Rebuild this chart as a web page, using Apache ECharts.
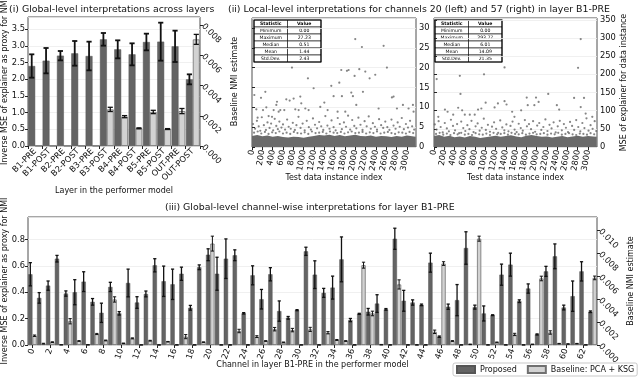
<!doctype html>
<html>
<head>
<meta charset="utf-8">
<title>interpretations</title>
<script src="https://cdn.jsdelivr.net/npm/echarts@6/dist/echarts.min.js"></script>
<style>
  html, body { margin: 0; padding: 0; background: #fff; }
  #chart { width: 640px; height: 379px; }
</style>
</head>
<body>
<div id="chart"></div>
<script>
// (i) layers
var layers = ['B1-PRE','B1-POST','B2-PRE','B2-POST','B3-PRE','B3-POST','B4-PRE','B4-POST','B5-PRE','B5-POST','OUT-PRE','OUT-POST'];
var layerProposed = [2.40,2.56,2.71,2.78,2.70,3.20,2.90,2.75,3.12,3.13,2.99,2.00];
var layerProposedErr = [0.35,0.38,0.14,0.37,0.43,0.19,0.27,0.33,0.25,0.57,0.47,0.15];
var layerBaseline = [0,0,0,0,0,0.00242,0.00194,0.00117,0.00225,0.00112,0.00231,0.00705];
var layerBaselineErr = [0,0,0,0,0,0.00014,0.00007,0.00003,0.00011,0.00003,0.00017,0.00033];

// (ii) local level, channel 20 (left) and 57 (right)
var statNames = ['Minimum','Maximum','Median','Mean','Std.Dev.'];
var statsLeft = ['0.00','27.23','0.51','1.44','2.43'];
var statsRight = ['0.00','293.77','6.01','14.09','21.35'];
var bandIdx = [0,100,200,300,400,500,600,700,800,900,1000,1100,1200,1300,1400,1500,1600,1700,1800,1900,2000,2100,2200,2300,2400,2500,2600,2700,2800,2900,3000,3100,3170];
var bandLeft = [2.8,3.0,2.7,2.9,2.6,2.8,2.5,2.4,2.6,2.5,2.3,2.6,2.8,3.0,2.9,3.1,2.8,3.0,2.7,2.9,3.1,2.8,2.7,2.9,2.6,2.8,2.7,2.5,2.8,2.6,2.9,2.7,2.6];
var bandRight = [30,33,28,31,27,29,26,30,28,25,27,29,31,28,30,32,29,27,31,33,30,28,29,26,28,30,27,29,31,28,30,29,28];
var pointsLeft = [
  [45,13.1],[84,9.5],[109,7.4],[174,12.4],[258,13.9],[213,9.3],[277,10.0],[322,7.8],[387,7.6],[419,9.3],
  [471,10.6],[484,11.4],[516,8.9],[548,9.3],[625,9.3],[664,12.0],[729,11.7],[774,20.0],[806,12.2],[838,9.5],
  [903,9.3],[935,12.7],[954,11.0],[1032,9.7],[1083,17.3],[1096,9.3],[1193,14.8],[1322,10.1],[1400,11.2],[1464,9.3],
  [1535,15.4],[1580,12.8],[1657,8.9],[1690,16.2],[1728,19.4],[1741,12.8],[1838,19.2],[1870,19.4],[1806,8.9],[1922,13.7],
  [1954,12.8],[1986,17.9],[1999,27.2],[2019,10.6],[2077,19.6],[2128,25.2],[2148,13.9],[2193,19.0],[2277,17.3],[2386,18.2],
  [2451,9.7],[2548,25.5],[2612,20.0],[2709,12.5],[2741,12.7],[2806,9.7],[2922,10.6],[3031,9.7],[3115,10.6],[3128,8.9],
  [20,5.8],[60,4.6],[95,6.6],[130,5.2],[160,4.1],[190,7.5],[230,5.5],[270,4.3],[300,6.2],[340,4.8],
  [370,5.9],[410,4.2],[440,7.1],[470,5.3],[500,4.5],[530,6.4],[570,4.9],[600,5.7],[640,4.4],[680,6.9],
  [710,5.1],[750,4.6],[790,6.1],[830,4.3],[860,5.5],[900,7.6],[940,4.8],[980,5.9],[1020,4.2],[1060,6.6],
  [1100,5.0],[1140,4.4],[1180,7.2],[1220,5.6],[1260,4.7],[1300,6.3],[1340,5.2],[1380,4.3],[1420,7.8],[1460,5.4],
  [1500,4.6],[1540,6.7],[1580,5.0],[1620,4.2],[1660,7.3],[1700,5.8],[1740,4.5],[1780,6.2],[1820,5.1],[1860,7.9],
  [1900,4.4],[1940,6.8],[1980,5.3],[2020,4.7],[2060,7.4],[2100,5.6],[2140,4.3],[2180,6.5],[2220,5.2],[2260,7.7],
  [2300,4.6],[2340,6.0],[2380,5.1],[2420,4.4],[2460,7.0],[2500,5.5],[2540,4.8],[2580,6.4],[2620,5.0],[2660,4.3],
  [2700,6.9],[2740,5.4],[2780,4.6],[2820,6.2],[2860,5.1],[2900,7.3],[2940,4.5],[2980,5.8],[3020,4.9],[3060,6.6],
  [3100,5.2],[3140,4.4],
  [40,3.6],[110,3.9],[180,3.4],[250,3.8],[320,3.3],[390,3.7],[460,3.5],[530,3.9],[600,3.4],[670,3.6],
  [740,3.3],[810,3.8],[880,3.5],[950,3.4],[1020,3.7],[1090,3.3],[1160,3.9],[1230,3.5],[1300,3.6],[1370,3.8],
  [1440,3.4],[1510,3.9],[1580,3.6],[1650,3.5],[1720,3.8],[1790,3.4],[1860,3.7],[1930,3.9],[2000,3.5],[2070,3.6],
  [2140,3.8],[2210,3.4],[2280,3.7],[2350,3.5],[2420,3.9],[2490,3.4],[2560,3.6],[2630,3.8],[2700,3.5],[2770,3.3],
  [2840,3.7],[2910,3.6],[2980,3.4],[3050,3.8],[3120,3.5]
];
var pointsRight = [
  [52,187],[503,196],[516,146],[974,200],[1374,219],[2806,218],[2858,297],[1806,136],[1987,136],[2038,124],
  [2225,146],[1374,126],[1413,117],[1006,122],[1180,109],[1245,120],[471,108],[922,106],[858,103],[213,103],
  [265,97],[84,83],[1826,115],[1955,115],[2393,115],[2438,103],[2729,135],[2922,135],[2858,110],[2954,92],
  [3083,83],[1697,101],[1522,97],[1567,83],[600,89],[697,89],[793,89],[374,89],[548,101],
  [15,62],[50,48],[90,71],[130,55],[170,40],[210,66],[250,51],[290,43],[330,75],[370,58],
  [410,46],[450,63],[490,38],[530,70],[570,52],[610,44],[650,60],[690,49],[730,72],[770,41],
  [810,57],[850,65],[890,45],[930,53],[970,78],[1010,47],[1050,61],[1090,42],[1130,56],[1170,68],
  [1210,50],[1250,39],[1290,73],[1330,54],[1370,46],[1410,62],[1450,43],[1490,58],[1530,70],[1570,48],
  [1610,41],[1650,64],[1690,52],[1730,45],[1770,74],[1810,57],[1850,63],[1890,49],[1930,71],[1970,42],
  [2010,59],[2050,66],[2090,47],[2130,55],[2170,76],[2210,44],[2250,61],[2290,51],[2330,68],[2370,40],
  [2410,57],[2450,72],[2490,46],[2530,63],[2570,53],[2610,41],[2650,69],[2690,58],[2730,47],[2770,74],
  [2810,55],[2850,43],[2890,66],[2930,52],[2970,79],[3010,45],[3050,60],[3090,50],[3130,71],[3160,44],
  [40,36],[110,39],[180,34],[250,37],[320,33],[390,38],[460,35],[530,39],[600,34],[670,36],
  [740,33],[810,38],[880,35],[950,34],[1020,37],[1090,33],[1160,39],[1230,35],[1300,36],[1370,38],
  [1440,34],[1510,39],[1580,36],[1650,35],[1720,38],[1790,34],[1860,37],[1930,39],[2000,35],[2070,36],
  [2140,38],[2210,34],[2280,37],[2350,35],[2420,39],[2490,34],[2560,36],[2630,38],[2700,35],[2770,33],
  [2840,37],[2910,36],[2980,34],[3050,38],[3120,35]
];

// (iii) channel-wise, layer B1-PRE
var channels = ['0','1','2','3','4','5','6','7','8','9','10','11','12','13','14','15','16','17','18','19','20','21','22','23','24','25','26','27','28','29','30','31',
  '32','33','34','35','36','37','38','39','40','41','42','43','44','45','46','47','48','49','50','51','52','53','54','55','56','57','58','59','60','61','62','63'];
var chProposed = [0.536,0.357,0.45,0.654,0.39,0.40,0.48,0.327,0.244,0.44,0.24,0.47,0.322,0.387,0.604,0.483,
  0.46,0.54,0.282,0.589,0.684,0.54,0.654,0.68,0.24,0.528,0.347,0.536,0.257,0.206,0.264,0.71,
  0.533,0.395,0.435,0.649,0.189,0.236,0.252,0.314,0.27,0.805,0.335,0.322,0.304,0.624,0.063,0.29,
  0.34,0.735,0.287,0.239,0.226,0.533,0.609,0.332,0.428,0.08,0.558,0.672,0.284,0.37,0.558,0.252];
var chProposedErr = [0.088,0.04,0.035,0.025,0.02,0.095,0.075,0.025,0.073,0.035,0.013,0.105,0.044,0.022,0.05,0.115,
  0.115,0.05,0.018,0.018,0.045,0.125,0.15,0.041,0.005,0.072,0.074,0.05,0.077,0.01,0.004,0.031,
  0.105,0.034,0.087,0.17,0.012,0.004,0.025,0.067,0.006,0.08,0.079,0.02,0.006,0.072,0.005,0.02,
  0.118,0.123,0.015,0.057,0.003,0.08,0.087,0.01,0.035,0.004,0.038,0.094,0.018,0.115,0.073,0.006];
var chBaseline = [0.00081,0.00012,0.00025,0.00002,0.00207,0.00035,0.00002,0.00096,0.0004,0.00397,0.00015,0.00058,0.00001,0.00038,0.00001,0.00029,
  0.00001,0.00073,0.00001,0.00025,0.00884,0.00001,0.00001,0.00122,0.00001,0.00073,0.00035,0.00138,0.00023,0.0013,0.00001,0.00136,
  0.00001,0.00107,0.00044,0.00035,0.00001,0.00696,0.00275,0.00003,0.00001,0.00528,0.00001,0.00001,0.00001,0.00115,0.0071,0.00035,
  0.00001,0.00006,0.00927,0.00001,0.00023,0.00001,0.00092,0.00001,0.00006,0.0058,0.00109,0.00012,0.00009,0.00012,0.00001,0.00585];
var chBaselineErr = [0.00006,0.00003,0.00003,0,0.00023,0.00003,0,0.00005,0.00003,0.00023,0.00002,0.00004,0,0.00003,0,0.00002,
  0,0.00018,0,0.00002,0.00065,0,0,0.00015,0,0.00008,0.00003,0.00015,0.00003,0.00015,0,0.00018,
  0,0.0001,0.00004,0.00003,0,0.00026,0.0002,0.00002,0,0.0004,0,0,0,0.00015,0.00016,0.00003,
  0,0.00002,0.00022,0,0.00003,0,0.0001,0,0.00002,0.0002,0.00015,0.00002,0.00002,0.00002,0,0.00016];

var FONT = 'DejaVu Sans';
var DARK = '#646464', LIGHT = '#d2d2d2';

function errData(vals, errs) {
  var out = [];
  for (var i = 0; i < vals.length; i++) {
    if (vals[i] === 0 && errs[i] === 0) continue;
    out.push([i, vals[i] - errs[i], vals[i] + errs[i]]);
  }
  return out;
}
function errSeries(xi, yi, vals, errs, side, lw) {
  return {
    type: 'custom', xAxisIndex: xi, yAxisIndex: yi, z: 5, silent: true,
    encode: { x: 0, y: [1, 2] },
    data: errData(vals, errs),
    renderItem: function (params, api) {
      var i = api.value(0);
      var lo = api.coord([i, api.value(1)]);
      var hi = api.coord([i, api.value(2)]);
      var bw = api.size([1, 0])[0];
      var x = lo[0] + side * bw * 0.24;
      var c = bw * 0.18;
      var st = { stroke: '#111', lineWidth: lw };
      return { type: 'group', children: [
        { type: 'line', shape: { x1: x, y1: lo[1], x2: x, y2: hi[1] }, style: st },
        { type: 'line', shape: { x1: x - c, y1: lo[1], x2: x + c, y2: lo[1] }, style: st },
        { type: 'line', shape: { x1: x - c, y1: hi[1], x2: x + c, y2: hi[1] }, style: st }
      ]};
    }
  };
}
function table(x0, y0, vals) {
  var cw = 33.5, rh = 7, kids = [];
  var rows = [['Statistic', 'Value']];
  for (var r = 0; r < statNames.length; r++) rows.push([statNames[r], vals[r]]);
  for (var r = 0; r < rows.length; r++) {
    for (var c = 0; c < 2; c++) {
      kids.push({ type: 'rect', shape: { x: x0 + c * cw, y: y0 + r * rh, width: cw, height: rh },
        style: { fill: '#fff', stroke: '#000', lineWidth: 0.6 } });
      kids.push({ type: 'text', x: x0 + c * cw + cw / 2, y: y0 + r * rh + rh / 2,
        style: { text: rows[r][c], align: 'center', verticalAlign: 'middle',
          font: (r === 0 ? 'bold ' : '') + '4.6px "' + FONT + '"', fill: '#000' } });
    }
  }
  kids.push({ type: 'rect', shape: { x: x0, y: y0, width: cw * 2, height: rh * rows.length },
    style: { fill: 'none', stroke: '#000', lineWidth: 1.1 } });
  return { type: 'group', children: kids, z: 100 };
}

var tickFont = { fontFamily: FONT, fontSize: 8.3, color: '#111' };
var nameFont = { fontFamily: FONT, fontSize: 8, color: '#111' };
var split = { show: true, lineStyle: { color: '#ececec', width: 0.8 } };
var tick = { show: true, length: 3, lineStyle: { color: '#222' } };
function fix(n) { return function (v) { return v.toFixed(n); }; }
function plain(v) { return String(v); }
function box(l, t, w, h) {
  return { left: l, top: t, width: w, height: h, outerBoundsMode: 'none', containLabel: false,
    show: true, borderColor: '#222', borderWidth: 0.8, backgroundColor: 'transparent' };
}
// shared axis bits
function yAx(grid, pos, max, step, fmt, rot, name, gap) {
  var a = { type: 'value', gridIndex: grid, position: pos, offset: 0, min: 0, max: max, interval: step,
    axisLine: { show: false }, axisTick: tick, nameMoveOverlap: false,
    splitLine: pos === 'left' || grid === 1 || grid === 2 ? split : { show: false },
    axisLabel: Object.assign({ formatter: fmt, rotate: rot, margin: 3, showMaxLabel: false, hideOverlap: false }, tickFont) };
  if (name) {
    a.name = name; a.nameLocation = 'middle'; a.nameGap = gap; a.nameTextStyle = nameFont;
    if (pos === 'right') a.nameRotate = 90;
  }
  return a;
}

var myChart = echarts.init(document.getElementById('chart'));
var option = {
  animation: false,
  backgroundColor: '#fff',
  textStyle: { fontFamily: FONT },
  title: [
    { text: '(i) Global-level interpretations across layers', left: 9, top: 5 },
    { text: '(ii) Local-level interpretations for channels 20 (left) and 57 (right) in layer B1-PRE', left: 228, top: 5 },
    { text: '(iii) Global-level channel-wise interpretations for layer B1-PRE', left: 165, top: 203 }
  ].map(function (t) {
    t.padding = 0;
    t.textStyle = { fontFamily: FONT, fontSize: 9.4, fontWeight: 'normal', color: '#111' };
    return t;
  }),
  legend: {
    left: 453, top: 363, padding: [2, 3], itemWidth: 18, itemHeight: 7, itemGap: 10,
    borderColor: '#bbb', borderWidth: 0.8, borderRadius: 2,
    textStyle: { fontFamily: FONT, fontSize: 8, color: '#111' },
    data: [{ name: 'Proposed', icon: 'rect' }, { name: 'Baseline: PCA + KSG', icon: 'rect' }]
  },
  grid: [
    box(28, 17, 172, 129),
    box(252, 18, 164, 129),
    box(434, 18, 163, 129),
    box(28, 217, 569, 128)
  ],
  xAxis: [
    { type: 'category', gridIndex: 0, data: layers, axisLine: { show: false }, axisTick: tick, nameMoveOverlap: false,
      axisLabel: Object.assign({ rotate: 45, interval: 0, margin: 4 }, tickFont),
      name: 'Layer in the performer model', nameLocation: 'middle', nameGap: 41, nameTextStyle: nameFont },
    { type: 'value', gridIndex: 1, min: 0, max: 3175, interval: 200, axisLine: { show: false }, axisTick: tick,
      splitLine: { show: false }, nameMoveOverlap: false,
      axisLabel: Object.assign({ rotate: 80, margin: 3, showMaxLabel: false, formatter: plain }, tickFont),
      name: 'Test data instance index', nameLocation: 'middle', nameGap: 27, nameTextStyle: nameFont },
    { type: 'value', gridIndex: 2, min: 0, max: 3175, interval: 200, axisLine: { show: false }, axisTick: tick,
      splitLine: { show: false }, nameMoveOverlap: false,
      axisLabel: Object.assign({ rotate: 80, margin: 3, showMaxLabel: false, formatter: plain }, tickFont),
      name: 'Test data instance index', nameLocation: 'middle', nameGap: 27, nameTextStyle: nameFont },
    { type: 'category', gridIndex: 3, data: channels, axisLine: { show: false }, nameMoveOverlap: false,
      axisTick: { show: true, length: 3, interval: 1, alignWithLabel: true, lineStyle: { color: '#222' } },
      axisLabel: Object.assign({ rotate: 70, interval: 1, margin: 4 }, tickFont),
      name: 'Channel in layer B1-PRE in the performer model', nameLocation: 'middle', nameGap: 16, nameTextStyle: nameFont }
  ],
  yAxis: [
    yAx(0, 'left', 3.87, 0.5, fix(1), 0, 'Inverse MSE of explainer as proxy for NMI', 19),
    yAx(0, 'right', 0.00853, 0.002, fix(3), -45, 'Baseline NMI estimate', 31),
    yAx(1, 'right', 32.5, 5, plain, 0, null, 0),
    yAx(2, 'right', 355, 50, plain, 0, 'MSE of explainer for data instance', 23),
    yAx(3, 'left', 0.97, 0.2, fix(1), 0, 'Inverse MSE of explainer as proxy for NMI', 19),
    yAx(3, 'right', 0.01116, 0.002, fix(3), -45, 'Baseline NMI estimate', 30)
  ],
  series: [
    { name: 'Proposed', type: 'bar', xAxisIndex: 0, yAxisIndex: 0, data: layerProposed,
      barWidth: '48%', barGap: '0%', itemStyle: { color: DARK, borderColor: '#555', borderWidth: 0.5 } },
    { name: 'Baseline: PCA + KSG', type: 'bar', xAxisIndex: 0, yAxisIndex: 1, data: layerBaseline,
      barWidth: '48%', barGap: '0%', itemStyle: { color: LIGHT, borderColor: '#707070', borderWidth: 0.8 } },
    errSeries(0, 0, layerProposed, layerProposedErr, -1, 1.8),
    errSeries(0, 1, layerBaseline, layerBaselineErr, 1, 1.3),

    { type: 'line', xAxisIndex: 1, yAxisIndex: 2, data: bandIdx.map(function (x, i) { return [x, bandLeft[i]]; }),
      showSymbol: false, lineStyle: { width: 0 }, areaStyle: { color: '#6a6a6a', opacity: 1 }, silent: true },
    { type: 'scatter', xAxisIndex: 1, yAxisIndex: 2, data: pointsLeft, symbolSize: 2.2,
      itemStyle: { color: '#666' }, silent: true },
    { type: 'line', xAxisIndex: 2, yAxisIndex: 3, data: bandIdx.map(function (x, i) { return [x, bandRight[i]]; }),
      showSymbol: false, lineStyle: { width: 0 }, areaStyle: { color: '#6a6a6a', opacity: 1 }, silent: true },
    { type: 'scatter', xAxisIndex: 2, yAxisIndex: 3, data: pointsRight, symbolSize: 2.2,
      itemStyle: { color: '#666' }, silent: true },

    { name: 'Proposed', type: 'bar', xAxisIndex: 3, yAxisIndex: 4, data: chProposed,
      barWidth: '48%', barGap: '0%', itemStyle: { color: DARK, borderColor: '#555', borderWidth: 0.5 } },
    { name: 'Baseline: PCA + KSG', type: 'bar', xAxisIndex: 3, yAxisIndex: 5, data: chBaseline,
      barWidth: '48%', barGap: '0%', itemStyle: { color: LIGHT, borderColor: '#707070', borderWidth: 0.8 } },
    errSeries(3, 4, chProposed, chProposedErr, -1, 1.3),
    errSeries(3, 5, chBaseline, chBaselineErr, 1, 1.0)
  ],
  graphic: [
    table(254, 20, statsLeft),
    table(435, 20, statsRight)
  ]
};
myChart.setOption(option);
</script>
</body>
</html>
